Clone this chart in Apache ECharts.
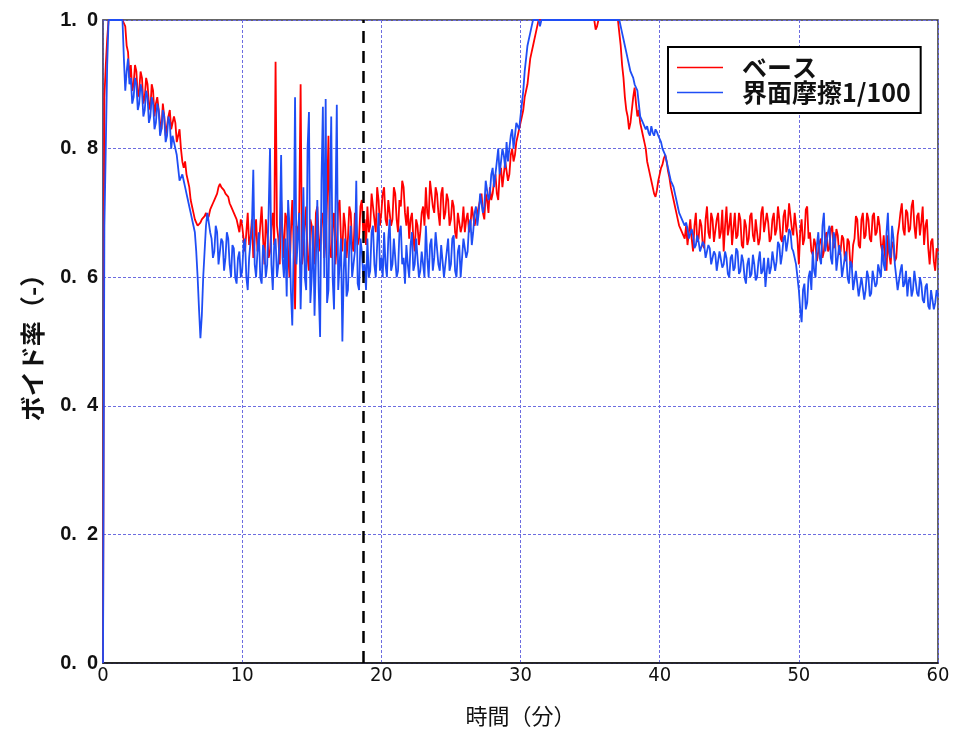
<!DOCTYPE html>
<html><head><meta charset="utf-8">
<script src="https://cdn.jsdelivr.net/npm/echarts@6/dist/echarts.min.js"></script>
<style>html,body{margin:0;padding:0;background:#fff}#c{width:957px;height:740px}</style>
</head><body><div id="c"></div>
<script>
// sampling interval of the digitised records (minutes); one row = one minute
const STEP = 0.1;
const xTicks = [0, 10, 20, 30, 40, 50, 60];
const yTicks = [0, 0.2, 0.4, 0.6, 0.8, 1.0];
const markerTime = 18.7;
const seriesNames = ['ベース', '界面摩擦1/100'];

const baseVoid = [
0,.88,.93,.97,1,1,1,1,1,1,
1,1,1,1,1,1,.99,.96,.95,.91,
.93,.89,.90,.93,.92,.88,.89,.92,.91,.87,
.88,.91,.90,.87,.86,.90,.89,.85,.87,.88,
.86,.84,.83,.87,.85,.82,.82,.85,.86,.83,
.83,.85,.84,.81,.81,.83,.80,.78,.77,.78,
.76,.75,.74,.72,.71,.70,.69,.685,.68,.68,
.685,.69,.69,.695,.70,.69,.695,.705,.71,.715,
.72,.72,.73,.74,.745,.74,.74,.735,.73,.73,
.725,.715,.71,.705,.70,.695,.69,.68,.67,.69,
.68,.66,.64,.67,.70,.65,.66,.69,.63,.66,
.69,.64,.65,.68,.71,.66,.62,.69,.67,.63,
.64,.68,.70,.65,.935,.68,.66,.62,.72,.67,
.63,.70,.69,.64,.60,.67,.72,.65,.55,.68,
.66,.70,.90,.62,.64,.68,.71,.63,.61,.69,
.68,.64,.62,.70,.71,.66,.64,.69,.70,.63,
.66,.72,.82,.64,.63,.68,.70,.62,.65,.71,
.72,.66,.64,.70,.68,.63,.66,.71,.70,.65,
.64,.70,.68,.65,.66,.71,.72,.67,.69,.65,
.71,.67,.68,.73,.73,.69,.67,.74,.72,.68,
.70,.73,.74,.69,.68,.72,.72,.68,.69,.74,
.73,.69,.67,.72,.71,.75,.74,.70,.68,.71,
.66,.69,.70,.66,.64,.69,.68,.65,.67,.70,
.71,.68,.74,.70,.69,.75,.75,.71,.70,.74,
.73,.70,.68,.73,.74,.69,.70,.73,.72,.68,
.69,.72,.71,.67,.66,.70,.70,.67,.68,.71,
.67,.69,.70,.67,.68,.71,.71,.68,.69,.70,
.70,.72,.73,.70,.69,.73,.72,.70,.74,.72,
.73,.75,.76,.73,.72,.76,.77,.74,.76,.78,
.78,.75,.76,.79,.80,.78,.79,.81,.82,.83,
.84,.85,.86,.88,.89,.90,.92,.94,.95,.96,
.97,.98,.99,1,1,1,1,1,1,1,
1,1,1,1,1,1,1,1,1,1,
1,1,1,1,1,1,1,1,1,1,
1,1,1,1,1,1,1,1,1,1,
1,1,1,1,.985,.99,1,1,1,1,
1,1,1,1,1,1,1,1,1,1,
1,.98,.96,.93,.91,.88,.86,.85,.83,.84,
.86,.88,.895,.87,.85,.86,.84,.83,.82,.81,
.80,.78,.77,.76,.75,.74,.73,.725,.735,.75,
.76,.77,.775,.785,.79,.78,.765,.755,.74,.73,
.72,.71,.70,.69,.68,.675,.67,.665,.66,.68,
.65,.67,.69,.66,.64,.68,.70,.655,.66,.69,
.68,.65,.645,.69,.71,.67,.66,.70,.69,.655,
.655,.69,.70,.66,.67,.705,.64,.68,.71,.665,
.68,.70,.65,.675,.70,.66,.665,.70,.69,.65,
.645,.69,.68,.65,.66,.695,.70,.665,.655,.69,
.69,.65,.66,.70,.71,.67,.67,.70,.685,.655,
.66,.69,.70,.665,.675,.71,.69,.66,.655,.695,
.705,.67,.68,.715,.715,.675,.665,.70,.70,.66,
.62,.67,.69,.65,.66,.705,.71,.66,.67,.64,
.635,.66,.65,.625,.625,.655,.66,.63,.64,.665,
.67,.64,.645,.675,.68,.645,.65,.675,.665,.635,
.64,.665,.66,.63,.625,.66,.655,.62,.615,.65,
.66,.695,.69,.65,.645,.69,.70,.66,.665,.70,
.69,.66,.655,.695,.70,.665,.67,.695,.68,.65,
.64,.665,.63,.61,.665,.635,.62,.655,.65,.625,
.63,.665,.68,.70,.715,.675,.665,.705,.70,.67,
.675,.71,.72,.68,.66,.695,.70,.665,.685,.71,
.65,.68,.69,.645,.62,.655,.66,.625,.61,.645,
.64];

const frictionVoid = [
0,.68,.80,.93,1,1,1,1,1,1,
1,1,1,1,1,.94,.89,.92,.94,.90,
.91,.87,.88,.91,.90,.86,.87,.90,.89,.85,
.86,.89,.88,.84,.85,.88,.87,.83,.84,.87,
.86,.82,.83,.86,.85,.81,.82,.85,.84,.80,
.82,.81,.80,.79,.77,.75,.75,.76,.75,.74,
.73,.72,.71,.70,.69,.68,.67,.64,.60,.55,
.505,.54,.60,.64,.68,.70,.70,.67,.66,.63,
.64,.68,.67,.62,.62,.66,.655,.61,.63,.67,
.66,.62,.60,.65,.645,.60,.59,.63,.64,.60,
.61,.65,.66,.60,.58,.63,.63,.68,.767,.62,
.60,.64,.67,.60,.59,.65,.64,.60,.62,.70,
.80,.62,.58,.65,.66,.60,.62,.67,.79,.63,
.60,.66,.57,.72,.68,.58,.525,.64,.88,.62,
.62,.70,.55,.64,.74,.60,.58,.80,.857,.56,
.60,.68,.54,.63,.72,.58,.507,.75,.865,.60,
.877,.56,.58,.72,.85,.60,.55,.70,.868,.58,
.62,.66,.50,.61,.66,.57,.58,.65,.68,.60,
.60,.64,.75,.59,.58,.66,.64,.60,.62,.58,
.66,.60,.61,.67,.68,.62,.60,.65,.70,.61,
.63,.60,.67,.62,.60,.66,.69,.61,.62,.66,
.66,.60,.61,.67,.68,.62,.63,.59,.65,.62,
.60,.65,.67,.61,.62,.66,.66,.60,.61,.64,
.64,.60,.68,.63,.60,.65,.66,.61,.63,.67,
.67,.62,.61,.65,.65,.60,.60,.64,.66,.61,
.62,.66,.665,.61,.60,.64,.65,.60,.63,.66,
.66,.63,.64,.68,.69,.65,.67,.70,.71,.68,
.70,.73,.73,.70,.71,.75,.75,.72,.73,.76,
.77,.74,.74,.78,.80,.76,.76,.80,.79,.77,
.81,.78,.78,.82,.83,.80,.80,.84,.84,.83,
.85,.87,.89,.92,.94,.96,.97,.98,.99,1,
1,1,1,1,.99,1,1,1,1,1,
1,1,1,1,1,1,1,1,1,1,
1,1,1,1,1,1,1,1,1,1,
1,1,1,1,1,1,1,1,1,1,
1,1,1,1,1,1,1,1,1,1,
1,1,1,1,1,1,1,1,1,1,
1,1,.99,.98,.97,.96,.95,.94,.93,.92,
.915,.91,.90,.895,.89,.87,.85,.845,.84,.835,
.83,.835,.825,.82,.835,.825,.82,.83,.826,.82,
.82,.81,.80,.795,.79,.78,.77,.76,.75,.745,
.74,.73,.72,.71,.70,.695,.69,.685,.68,.685,
.675,.66,.66,.675,.665,.645,.65,.665,.655,.64,
.64,.655,.65,.63,.63,.65,.645,.62,.62,.64,
.635,.61,.61,.64,.64,.615,.62,.64,.63,.605,
.60,.63,.635,.61,.615,.645,.64,.605,.61,.635,
.625,.60,.59,.62,.63,.60,.605,.635,.62,.595,
.60,.625,.64,.605,.61,.63,.585,.61,.63,.605,
.615,.64,.64,.61,.625,.655,.65,.62,.635,.66,
.665,.64,.655,.675,.67,.645,.64,.63,.62,.60,
.58,.55,.53,.58,.59,.55,.56,.60,.61,.58,
.64,.61,.60,.65,.67,.63,.62,.68,.70,.64,
.64,.67,.68,.63,.62,.67,.66,.61,.61,.65,
.635,.60,.60,.63,.64,.60,.59,.625,.62,.58,
.58,.61,.61,.57,.57,.60,.60,.565,.58,.61,
.60,.57,.575,.61,.61,.585,.59,.62,.62,.60,
.65,.62,.61,.67,.70,.64,.63,.68,.66,.62,
.60,.58,.58,.61,.62,.585,.59,.61,.57,.595,
.60,.57,.58,.61,.61,.575,.57,.60,.59,.565,
.56,.585,.59,.555,.55,.58,.58,.55,.56,.58,
.57];

const toPairs = arr => arr.map((v, i) => [Math.round(i * STEP * 10) / 10, v]);

const chart = echarts.init(document.getElementById('c'), null, {renderer: 'canvas'});
const gridLine = {show: true, lineStyle: {color: '#6c6ce0', width: 1, type: [3, 2]}};
chart.setOption({
  animation: false,
  backgroundColor: '#fff',
  grid: {left: 103, right: 19, top: 20, bottom: 77, show: true, borderColor: '#333', borderWidth: 1.5, backgroundColor: 'transparent'},
  legend: {
    orient: 'vertical', left: 668, top: 47,
    data: seriesNames.map(n => ({name: n, icon: 'rect'})),
    itemWidth: 46, itemHeight: 1.5, itemGap: 0,
    padding: [8, 10, 8, 9],
    borderColor: '#000', borderWidth: 2, backgroundColor: '#fff',
    textStyle: {fontFamily: 'Noto Sans CJK JP', fontSize: 25, fontWeight: 'bold', color: '#111', lineHeight: 25, padding: [0, 0, 0, 14]}
  },
  xAxis: {
    type: 'value', min: xTicks[0], max: xTicks[xTicks.length - 1], interval: 10,
    name: '時間（分）', nameLocation: 'middle', nameGap: 42,
    nameTextStyle: {fontFamily: 'Noto Sans CJK JP', fontSize: 22, color: '#111'},
    axisLine: {show: true, lineStyle: {color: '#111', width: 1.5}},
    axisTick: {show: false},
    axisLabel: {fontFamily: "'DejaVu Sans Condensed', 'Liberation Sans', sans-serif", fontSize: 20, color: '#111', margin: 3},
    splitLine: gridLine
  },
  yAxis: {
    type: 'value', min: yTicks[0], max: yTicks[yTicks.length - 1], interval: 0.2,
    name: 'ボイド率（-）', nameLocation: 'middle', nameGap: 58, nameRotate: 90,
    nameTextStyle: {fontFamily: 'Noto Sans CJK JP', fontSize: 25, fontWeight: 'bold', color: '#111'},
    axisLine: {show: true, lineStyle: {color: '#55558a', width: 1.5}},
    axisTick: {show: false},
    axisLabel: {fontFamily: "'Liberation Sans', sans-serif", fontWeight: 'bold', fontSize: 20, color: '#111', margin: 5,
      formatter: v => v.toFixed(1).replace('.', '.\u2002')},
    splitLine: gridLine
  },
  series: [
    {name: seriesNames[0], type: 'line', data: toPairs(baseVoid), showSymbol: false, color: '#ff0000',
     lineStyle: {width: 1.8, color: '#ff0000'}, z: 2},
    {name: seriesNames[1], type: 'line', data: toPairs(frictionVoid), showSymbol: false, color: '#1f4ef5',
     lineStyle: {width: 1.8, color: '#1f4ef5'}, z: 3,
     markLine: {silent: true, symbol: ['none', 'none'], label: {show: false}, z: 10,
       lineStyle: {color: '#000', width: 2.5, type: [12, 8]},
       data: [{xAxis: markerTime}]}}
  ]
});
</script></body></html>
